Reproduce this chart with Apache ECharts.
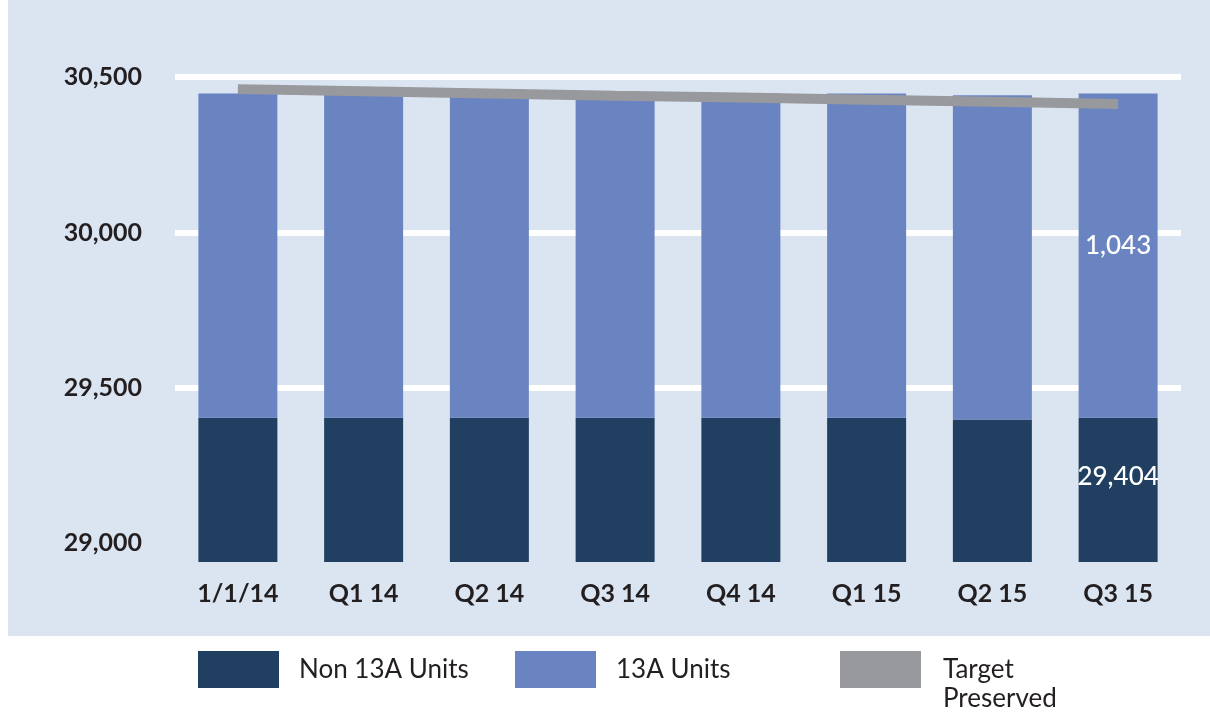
<!DOCTYPE html>
<html>
<head>
<meta charset="utf-8">
<title>13A Units</title>
<script src="https://cdn.jsdelivr.net/npm/echarts@6/dist/echarts.min.js"></script>
<style>
  html, body { margin: 0; padding: 0; background: #fff; }
  #chart { width: 1210px; height: 713px; }
</style>
</head>
<body>
<div id="chart"></div>
<script>
// categories (x axis)
const categories = ["1/1/14", "Q1 14", "Q2 14", "Q3 14", "Q4 14", "Q1 15", "Q2 15", "Q3 15"];
// stacked bars
const non13AUnits = [29404, 29404, 29404, 29404, 29404, 29404, 29398, 29404];
const units13A = [1043, 1043, 1043, 1043, 1043, 1043, 1043, 1043];
// line
const targetPreserved = [30461, 30454, 30447, 30440, 30434, 30427, 30420, 30413];
// y axis tick labels
const yTicks = [29000, 29500, 30000, 30500];
const labelledIndex = 7; // only the last bar shows its values

const fontFamily = "Lato, 'Open Sans', sans-serif";
const textColor = "#231f20";

function withLabel(values, offsetY) {
  return values.map((v, i) => {
    if (i !== labelledIndex) return v;
    return {
      value: v,
      label: {
        show: true,
        position: "inside",
        offset: [0, offsetY],
        color: "#fff",
        fontFamily: fontFamily,
        fontSize: 26,
        fontWeight: 500,
        formatter: (p) => p.value.toLocaleString("en-US"),
      },
    };
  });
}

const legendText = {
  color: textColor,
  fontFamily: fontFamily,
  fontSize: 26,
  padding: [0, 0, 0, 15],
};

let option = {
  animation: false,
  backgroundColor: "#fff",
  graphic: [
    {
      type: "rect",
      left: 8,
      top: 0,
      z: -10,
      shape: { width: 1202, height: 636 },
      style: { fill: "#dbe5f1" },
    },
  ],
  grid: {
    left: 175,
    right: 29,
    top: 77,
    bottom: 151,
  },
  legend: [
    {
      left: 198,
      top: 651,
      padding: 0,
      itemWidth: 81,
      itemHeight: 37,
      icon: "rect",
      data: ["Non 13A Units"],
      textStyle: legendText,
    },
    {
      left: 515,
      top: 651,
      padding: 0,
      itemWidth: 81,
      itemHeight: 37,
      icon: "rect",
      data: ["13A Units"],
      textStyle: legendText,
    },
    {
      left: 840,
      top: 626,
      padding: 0,
      itemWidth: 81,
      itemHeight: 37,
      icon: "rect",
      data: ["Target Preserved"],
      // empty first line pushes the two words below the swatch's middle
      formatter: (name) => "\n" + name.replace(" ", "\n"),
      textStyle: Object.assign({}, legendText, {
        lineHeight: 29,
        padding: [0, 0, 0, 17],
      }),
    },
  ],
  xAxis: {
    type: "category",
    data: categories,
    axisLine: { show: false },
    axisTick: { show: false },
    axisLabel: {
      margin: 19,
      color: textColor,
      fontFamily: fontFamily,
      fontSize: 25,
      fontWeight: "bold",
    },
  },
  yAxis: {
    type: "value",
    min: 28940,
    max: 30500,
    axisLine: { show: false },
    axisTick: { show: false, customValues: yTicks },
    axisLabel: {
      customValues: yTicks,
      margin: 33,
      color: textColor,
      fontFamily: fontFamily,
      fontSize: 25,
      fontWeight: "bold",
      formatter: (v) => v.toLocaleString("en-US"),
    },
    splitLine: {
      show: true,
      customValues: yTicks,
      lineStyle: {
        // no line at 29,000
        color: ["rgba(255,255,255,0)", "#fff", "#fff", "#fff"],
        width: 6,
      },
    },
  },
  series: [
    {
      name: "Non 13A Units",
      type: "bar",
      stack: "units",
      barWidth: 79,
      itemStyle: { color: "#203f61" },
      data: withLabel(non13AUnits, -13),
    },
    {
      name: "13A Units",
      type: "bar",
      stack: "units",
      barWidth: 79,
      itemStyle: { color: "#6a84c1" },
      data: withLabel(units13A, -10),
    },
    {
      name: "Target Preserved",
      type: "line",
      symbol: "none",
      itemStyle: { color: "#98999c" },
      lineStyle: { color: "#98999c", width: 10, cap: "butt" },
      data: targetPreserved,
    },
  ],
};

const myChart = echarts.init(document.getElementById("chart"));
myChart.setOption(option);
window.addEventListener("resize", () => {
  myChart.resize();
});
</script>
</body>
</html>
